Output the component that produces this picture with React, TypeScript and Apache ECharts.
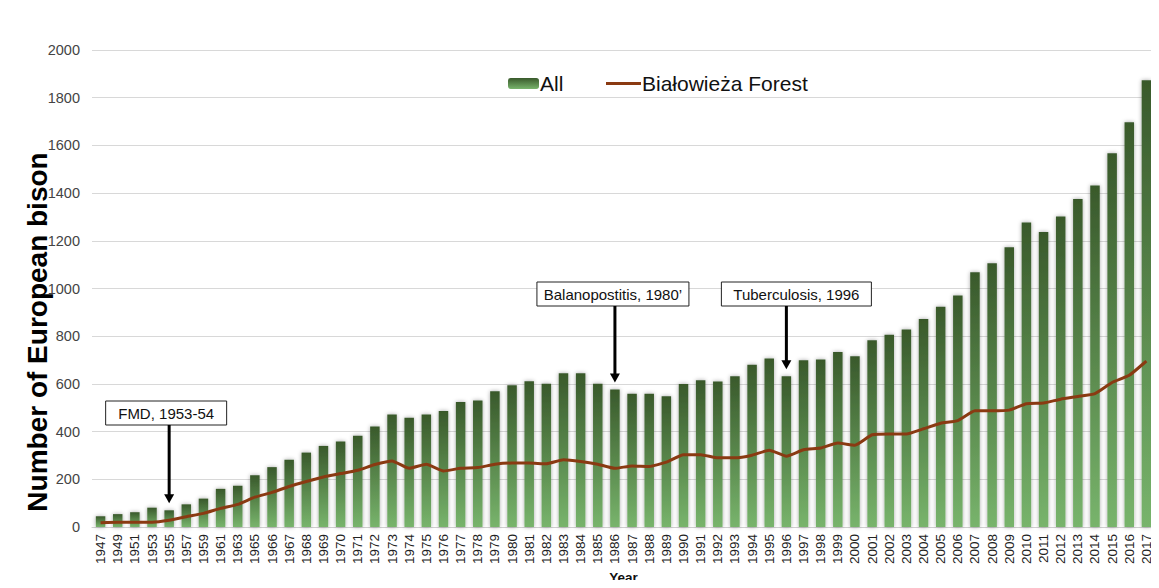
import React, { useEffect, useRef } from "react";
import * as echarts from "echarts";

const years = [
  "1947", "1949", "1951", "1953", "1955", "1957", "1959", "1961", "1963", "1965",
  "1966", "1967", "1968", "1969", "1970", "1971", "1972", "1973", "1974", "1975",
  "1976", "1977", "1978", "1979", "1980", "1981", "1982", "1983", "1984", "1985",
  "1986", "1987", "1988", "1989", "1990", "1991", "1992", "1993", "1994", "1995",
  "1996", "1997", "1998", "1999", "2000", "2001", "2002", "2003", "2004", "2005",
  "2006", "2007", "2008", "2009", "2010", "2011", "2012", "2013", "2014", "2015",
  "2016", "2017",
];

const allBison = [
  45, 54, 62, 81, 70, 95, 119, 160, 173, 217,
  251, 282, 312, 340, 359, 383, 421,
  472, 458, 472, 486, 524, 530, 569, 594, 611, 601, 645, 645, 601, 577, 559, 559, 548,
  600, 615, 610, 632, 680, 706, 632, 699, 702, 734, 716, 783, 806, 828,
  872, 924, 971, 1068, 1106, 1173, 1277, 1237, 1302, 1375, 1432, 1567, 1697, 1873,
];

const bialowieza = [
  18, 20, 20, 20, 28, 43, 57, 78, 95, 125,
  145, 170, 191, 210, 224, 238, 262,
  277, 246, 263, 235, 246, 249, 263, 268, 268, 265, 282, 275, 263, 246, 256, 254, 272,
  303, 303, 290, 290, 301, 322, 297, 324, 331, 352, 343, 387, 390, 390,
  412, 435, 446, 487, 487, 490, 517, 520, 536, 547, 559, 606, 636, 696,
];

const yTicks = { min: 0, max: 2000, interval: 200 };

const annotations = [
  { label: "FMD, 1953-54", year: "1955", boxTop: 401, boxW: 121, dx: -3 },
  { label: "Balanopostitis, 1980\u2019", year: "1986", boxTop: 282, boxW: 152, dx: -2 },
  { label: "Tuberculosis, 1996", year: "1996", boxTop: 282, boxW: 150, dx: 10 },
];

const FONT = "'Liberation Sans', Arial, sans-serif";
const BROWN = "#8a3a12";

export default function App() {
  const ref = useRef<HTMLDivElement>(null);

  useEffect(() => {
    if (!ref.current) return;
    const chart = echarts.init(ref.current, null, { renderer: "svg" });
    const barGradient = new echarts.graphic.LinearGradient(0, 0, 0, 1, [
      { offset: 0, color: "#39592b" },
      { offset: 1, color: "#78b46c" },
    ]);
    const legendText = { fontSize: 21, color: "#111", fontFamily: FONT, padding: [0, 0, 0, -4] };
    chart.setOption({
      animation: false,
      backgroundColor: "#ffffff",
      textStyle: { fontFamily: FONT },
      grid: { left: 92, right: 4, top: 50, bottom: 61, containLabel: false, outerBoundsMode: "none" },
      legend: [
        {
          left: 508,
          top: 73,
          padding: 0,
          itemWidth: 31,
          itemHeight: 11,
          textStyle: legendText,
          data: ["All"],
        },
        {
          left: 606,
          top: 73,
          padding: 0,
          itemWidth: 35,
          itemHeight: 3,
          icon: "rect",
          textStyle: legendText,
          data: ["Białowieża Forest"],
        },
      ],
      xAxis: {
        type: "category",
        data: years,
        boundaryGap: true,
        name: "Year",
        nameLocation: "middle",
        nameGap: 43,
        nameMoveOverlap: false,
        nameTextStyle: { fontSize: 13.5, fontWeight: "bold", color: "#111", fontFamily: FONT },
        axisLine: { lineStyle: { color: "#d0d0d0" } },
        axisTick: { show: false },
        axisLabel: { interval: 0, rotate: 90, fontSize: 13.5, color: "#222", margin: 7, fontFamily: FONT },
      },
      yAxis: {
        type: "value",
        min: yTicks.min,
        max: yTicks.max,
        interval: yTicks.interval,
        axisLine: { show: false },
        axisTick: { show: false },
        axisLabel: {
          fontSize: 14.5,
          color: "#444",
          margin: 12,
          fontFamily: FONT,
          formatter: (v: number) => String(v),
        },
        splitLine: { lineStyle: { color: "#d8d8d8" } },
      },
      series: [
        {
          name: "All",
          type: "bar",
          data: allBison,
          barWidth: 9.5,
          itemStyle: {
            color: barGradient,
            shadowColor: "rgba(0,0,0,0.35)",
            shadowBlur: 4,
          },
        },
        {
          name: "Białowieża Forest",
          type: "line",
          data: bialowieza,
          symbol: "none",
          smooth: 0.15,
          lineStyle: { color: BROWN, width: 3 },
          itemStyle: { color: BROWN },
        },
      ],
    });

    const graphics: any[] = [
      {
        type: "text",
        x: 37,
        y: 332,
        rotation: Math.PI / 2,
        style: {
          text: "Number of European bison",
          font: `bold 28px ${FONT}`,
          fill: "#000",
          align: "center",
          verticalAlign: "middle",
        },
      },
    ];
    annotations.forEach((a) => {
      const idx = years.indexOf(a.year);
      const [x, barTop] = chart.convertToPixel({ xAxisIndex: 0, yAxisIndex: 0 }, [idx, allBison[idx]]) as number[];
      const tip = barTop - 7;
      const boxH = 24;
      const bx = x + a.dx - a.boxW / 2;
      const boxBottom = a.boxTop + boxH;
      graphics.push(
        {
          type: "rect",
          shape: { x: bx, y: a.boxTop, width: a.boxW, height: boxH },
          style: { fill: "#fff", stroke: "#222", lineWidth: 1 },
          z: 10,
        },
        {
          type: "text",
          x: bx + a.boxW / 2,
          y: a.boxTop + boxH / 2,
          style: {
            text: a.label,
            font: `15px ${FONT}`,
            fill: "#111",
            align: "center",
            verticalAlign: "middle",
          },
          z: 11,
        },
        {
          type: "line",
          shape: { x1: x, y1: boxBottom, x2: x, y2: tip - 7 },
          style: { stroke: "#000", lineWidth: 3 },
          z: 10,
        },
        {
          type: "polygon",
          shape: { points: [[x - 5, tip - 9], [x + 5, tip - 9], [x, tip]] },
          style: { fill: "#000" },
          z: 10,
        }
      );
    });
    chart.setOption({ graphic: graphics });

    return () => chart.dispose();
  }, []);

  return <div ref={ref} style={{ width: 1159, height: 588, margin: -8 }} />;
}
